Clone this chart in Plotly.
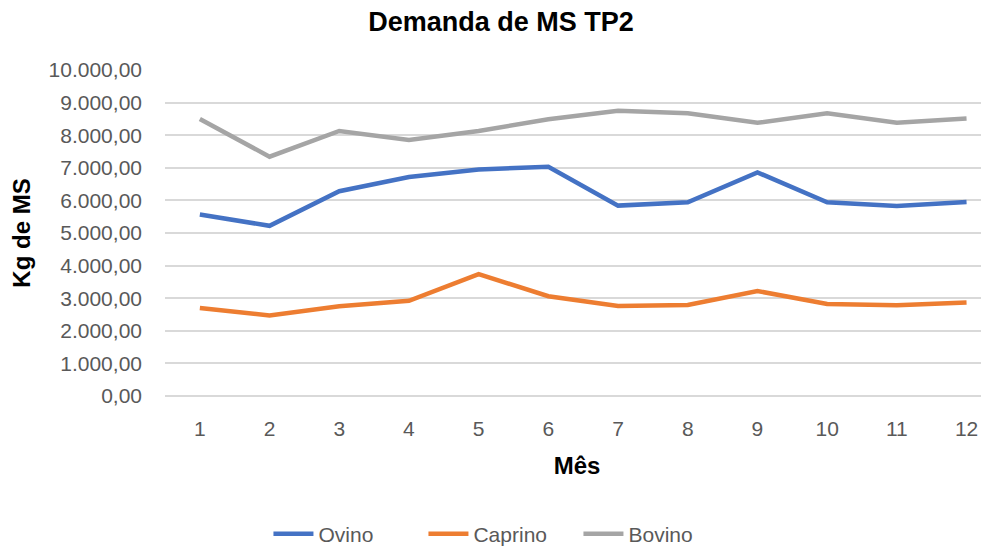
import plotly.graph_objects as go

meses = [1, 2, 3, 4, 5, 6, 7, 8, 9, 10, 11, 12]
ovino = [5570, 5220, 6280, 6720, 6950, 7030, 5840, 5940, 6860, 5940, 5830, 5950]
caprino = [2700, 2470, 2750, 2920, 3740, 3060, 2760, 2790, 3220, 2820, 2780, 2870]
bovino = [8500, 7340, 8130, 7850, 8130, 8490, 8750, 8670, 8380, 8670, 8380, 8510]
y_ticks = [0, 1000, 2000, 3000, 4000, 5000, 6000, 7000, 8000, 9000, 10000]

series = [("Ovino", ovino, "#4472C4"), ("Caprino", caprino, "#ED7D31"), ("Bovino", bovino, "#A5A5A5")]

fig = go.Figure()
for name, vals, color in series:
    fig.add_trace(go.Scatter(x=meses, y=vals, name=name, mode="lines",
                             line=dict(color=color, width=4.5)))

W, H = 981, 538
font_main = "Liberation Sans, Arial, sans-serif"
fig.update_layout(
    width=W, height=H,
    paper_bgcolor="white", plot_bgcolor="white",
    margin=dict(l=157, r=0, t=62, b=150, autoexpand=False),
    separators=",.",
    font=dict(family=font_main, color="#595959", size=21),
    title=dict(text="<b>Demanda de MS TP2</b>", x=0.5025, xref="container",
               y=1 - 14 / H, yref="container", xanchor="center", yanchor="middle",
               font=dict(size=27, color="#000000", family=font_main)),
    legend=dict(orientation="h", x=0.5025, xref="container", xanchor="center",
                y=1 - 526 / H, yref="container", yanchor="middle",
                font=dict(size=21, color="#595959"), traceorder="normal",
                itemwidth=40, entrywidth=100, entrywidthmode="pixels"),
    xaxis=dict(range=[0.5, 0.5 + 824 / 69.7], tickvals=meses,
               ticktext=[str(m) for m in meses], showgrid=False, zeroline=False,
               showline=False, ticks="", ticklabelstandoff=18,
               title=dict(text="<b>Mês</b>", font=dict(size=24, color="#000000"), standoff=18)),
    yaxis=dict(range=[0, 10000], tickvals=y_ticks, tickformat=",.2f",
               showgrid=True, gridcolor="#D9D9D9", gridwidth=1.5, zeroline=True,
               zerolinecolor="#D9D9D9", zerolinewidth=1.5, showline=False, ticks="",
               ticklabelstandoff=22,
               title=dict(text="<b>Kg de MS</b>", font=dict(size=24, color="#000000"), standoff=12)),
)

fig.write_html("out.html")
